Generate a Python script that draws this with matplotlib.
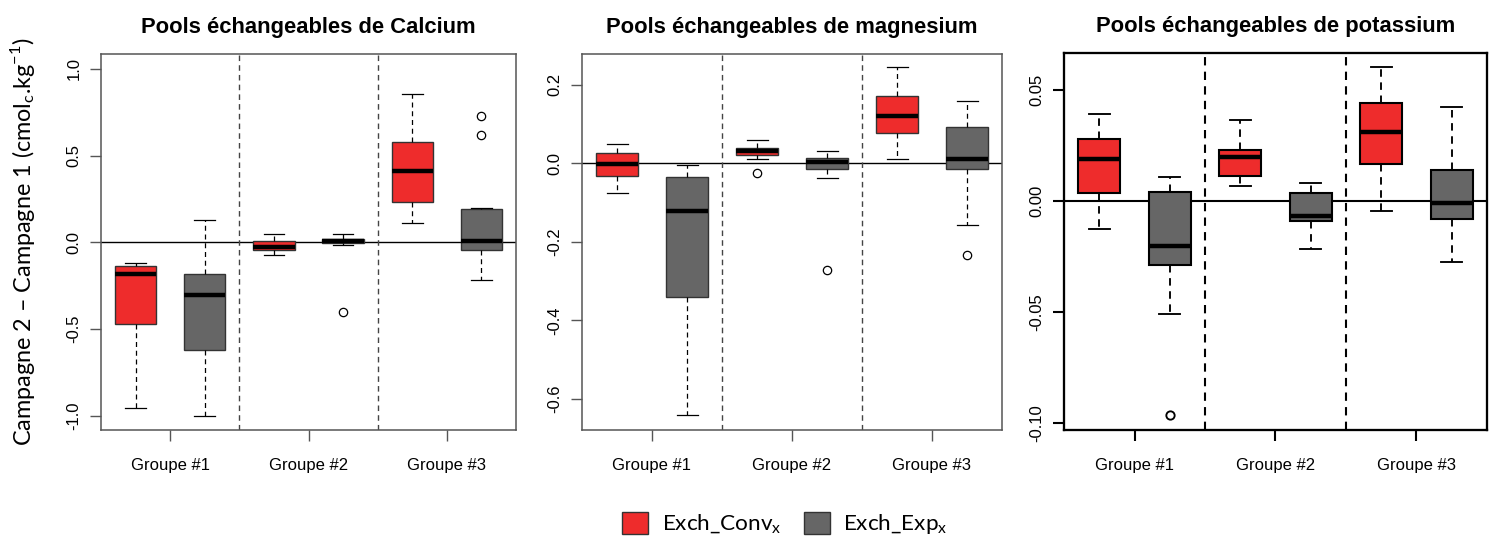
import matplotlib
matplotlib.use("Agg")
import matplotlib.pyplot as plt
from matplotlib.patches import Patch

plt.rcParams['font.family'] = ['Liberation Sans', 'DejaVu Sans']
plt.rcParams['axes.unicode_minus'] = False
plt.rcParams['mathtext.fontset'] = 'custom'
plt.rcParams['mathtext.rm'] = 'Lato'

groups = ['Groupe #1', 'Groupe #2', 'Groupe #3']
series = ['Exch_Conv', 'Exch_Exp']
titles = ['Pools échangeables de Calcium', 'Pools échangeables de magnesium',
          'Pools échangeables de potassium']

# box order: Conv G1, Exp G1, Conv G2, Exp G2, Conv G3, Exp G3
ca_whislo = [-0.957, -0.999, -0.073, -0.016, 0.109, -0.217]
ca_q1 = [-0.469, -0.619, -0.044, -0.004, 0.234, -0.044]
ca_med = [-0.183, -0.306, -0.027, 0.009, 0.413, 0.010]
ca_q3 = [-0.135, -0.184, 0.009, 0.021, 0.576, 0.194]
ca_whishi = [-0.121, 0.127, 0.050, 0.050, 0.857, 0.196]
ca_fliers = [[], [], [], [-0.404], [], [0.730, 0.618]]

mg_whislo = [-0.077, -0.641, 0.010, -0.038, 0.010, -0.158]
mg_q1 = [-0.032, -0.341, 0.021, -0.014, 0.076, -0.014]
mg_med = [-0.003, -0.122, 0.030, 0.003, 0.121, 0.012]
mg_q3 = [0.025, -0.034, 0.038, 0.014, 0.170, 0.093]
mg_whishi = [0.048, -0.005, 0.059, 0.032, 0.245, 0.158]
mg_fliers = [[], [], [-0.026], [-0.272], [], [-0.234]]

k_whislo = [-0.0125, -0.0512, 0.0066, -0.0216, -0.0046, -0.0276]
k_q1 = [0.0035, -0.0291, 0.0110, -0.0093, 0.0165, -0.0081]
k_med = [0.0188, -0.0206, 0.0198, -0.0068, 0.0308, -0.0008]
k_q3 = [0.0278, 0.0041, 0.0228, 0.0035, 0.0438, 0.0140]
k_whishi = [0.0389, 0.0105, 0.0363, 0.0078, 0.0600, 0.0423]
k_fliers = [[], [-0.0964], [], [], [], []]

ca_ticks = [1.0, 0.5, 0.0, -0.5, -1.0]
ca_ticklabels = ['1.0', '0.5', '0.0', '-0.5', '-1.0']
mg_ticks = [0.2, 0.0, -0.2, -0.4, -0.6]
mg_ticklabels = ['0.2', '0.0', '-0.2', '-0.4', '-0.6']
k_ticks = [0.05, 0.0, -0.05, -0.10]
k_ticklabels = ['0.05', '0.00', '-0.05', '-0.10']

panels = [
    (ca_whislo, ca_q1, ca_med, ca_q3, ca_whishi, ca_fliers, ca_ticks, ca_ticklabels, (-1.082, 1.085)),
    (mg_whislo, mg_q1, mg_med, mg_q3, mg_whishi, mg_fliers, mg_ticks, mg_ticklabels, (-0.679, 0.278)),
    (k_whislo, k_q1, k_med, k_q3, k_whishi, k_fliers, k_ticks, k_ticklabels, (-0.1032, 0.0665)),
]

red = '#EE2C2C'
grey = '#666666'
colors = [red, grey] * 3

W, H = 1496, 541
fig = plt.figure(figsize=(W / 100, H / 100), dpi=100)
rects = [(101, 516, 54, 430), (582, 1002, 54, 430), (1064, 1487, 53, 430)]

for i, (wlo, q1, med, q3, whi, fl, ticks, tlabels, ylim) in enumerate(panels):
    x0, x1, y0, y1 = rects[i]
    ax = fig.add_axes([x0 / W, 1 - y1 / H, (x1 - x0) / W, (y1 - y0) / H])
    heavy = i == 2
    lw = 1.5 if heavy else 1.0
    edge = 'black' if heavy else '#333333'
    frame = 'black' if heavy else '#555555'

    stats = []
    for j in range(6):
        stats.append(dict(whislo=wlo[j], q1=q1[j], med=med[j], q3=q3[j],
                          whishi=whi[j], fliers=fl[j]))
    ax.axhline(0, color='black', lw=lw, zorder=1)
    for s in (2.5, 4.5):
        ax.axvline(s, color='black' if heavy else '#444444', lw=lw,
                   ls=(0, (4, 3)), zorder=1)
    b = ax.bxp(stats, positions=range(1, 7), widths=0.6, patch_artist=True,
               boxprops=dict(linewidth=lw, edgecolor=edge),
               medianprops=dict(color='black', linewidth=3.2),
               whiskerprops=dict(color='black', linewidth=lw * 0.9, linestyle=(0, (4, 3))),
               capprops=dict(color='black', linewidth=lw * 0.9),
               flierprops=dict(marker='o', markerfacecolor='none', markeredgecolor='black',
                               markersize=6, markeredgewidth=0.9 * lw),
               capwidths=0.3, manage_ticks=False)
    for patch, c in zip(b['boxes'], colors):
        patch.set_facecolor(c)
        patch.set_zorder(2)

    ax.set_xlim(0.5, 6.5)
    ax.set_ylim(*ylim)
    ax.set_xticks([1.5, 3.5, 5.5])
    ax.set_xticklabels(groups, fontsize=12)
    ax.set_yticks(ticks)
    ax.set_yticklabels(tlabels, fontsize=12, rotation=90, va='center')
    ax.tick_params(axis='x', length=8, width=lw, pad=12, color=frame)
    ax.tick_params(axis='y', length=8, width=lw, pad=6, color=frame)
    for sp in ax.spines.values():
        sp.set_color(frame)
        sp.set_linewidth(lw * 1.1)
    ax.set_title(titles[i], fontsize=15.8, fontweight='bold', pad=15)

fig.text(23 / W, 1 - 242 / H,
         'Campagne 2 – Campagne 1 (cmol$_\\mathregular{c}$.kg$^\\mathregular{-1}$)',
         rotation=90, ha='center', va='center', fontsize=16.8, family='Lato')

handles = [Patch(facecolor=red, edgecolor='#333333'), Patch(facecolor=grey, edgecolor='#333333')]
labels = [s + '$_\\mathregular{x}$' for s in series]
fig.legend(handles, labels, loc='center', bbox_to_anchor=(785 / W, 1 - 524 / H), ncol=2,
           frameon=False, prop=dict(family='Lato', size=16.2), handlelength=1.15,
           handleheight=1.15, columnspacing=1.0, handletextpad=0.6)

fig.savefig('out.png', dpi=100)
